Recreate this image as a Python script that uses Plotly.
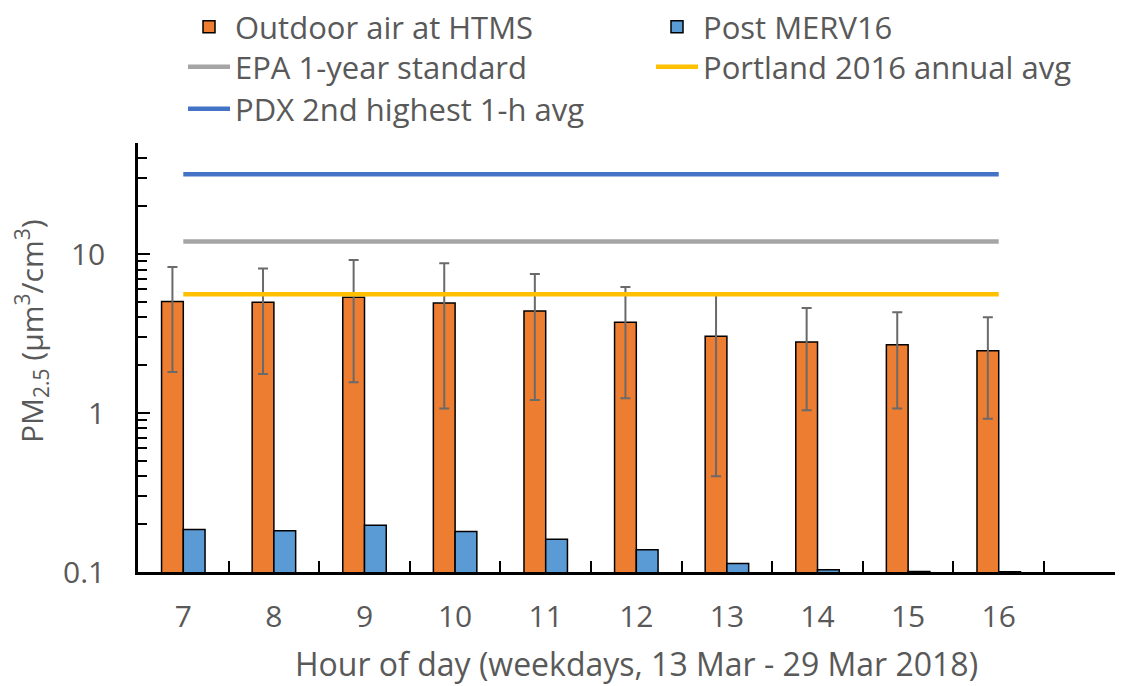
import plotly.graph_objects as go

hours = ["7", "8", "9", "10", "11", "12", "13", "14", "15", "16"]
outdoor = [5.03, 4.97, 5.36, 4.92, 4.38, 3.73, 3.04, 2.80, 2.69, 2.47]
outdoor_err_hi = [8.3, 8.13, 9.17, 8.75, 7.5, 6.22, 5.6, 4.58, 4.3, 4.0]
outdoor_err_lo = [1.81, 1.76, 1.56, 1.07, 1.21, 1.24, 0.40, 1.04, 1.07, 0.92]
post_merv16 = [0.185, 0.182, 0.197, 0.180, 0.161, 0.138, 0.113, 0.1033, 0.1008, 0.1004]
epa_standard = [12, 12, 12, 12, 12, 12, 12, 12, 12, 12]
portland_avg = [5.6, 5.6, 5.6, 5.6, 5.6, 5.6, 5.6, 5.6, 5.6, 5.6]
pdx_2nd_high = [31.8, 31.8, 31.8, 31.8, 31.8, 31.8, 31.8, 31.8, 31.8, 31.8]

x_title = "Hour of day (weekdays, 13 Mar - 29 Mar 2018)"
y_title = "PM<sub>2.5</sub> (μm<sup>3</sup>/cm<sup>3</sup>)"

err_plus = [h - v for h, v in zip(outdoor_err_hi, outdoor)]
err_minus = [v - l for l, v in zip(outdoor_err_lo, outdoor)]

# page body has an 8px margin; positions below are in figure pixels
W, H = 1123, 686
ML, MR, MT, MB = 130, 0, 135, 122
PW, PH = W - ML - MR, H - MT - MB
FONT = "Open Sans"
TXT = "#595959"
LEG_FONT = dict(family=FONT, size=31, color=TXT)

fig = go.Figure()
fig.add_trace(go.Bar(
    x=hours, y=outdoor, name="Outdoor air at HTMS", legend="legend",
    marker=dict(color="#ED7D31", line=dict(color="black", width=1.5)),
    error_y=dict(type="data", array=err_plus, arrayminus=err_minus,
                 color="#6a6a6a", thickness=2, width=5),
))
fig.add_trace(go.Bar(
    x=hours, y=post_merv16, name="Post MERV16", legend="legend2",
    marker=dict(color="#5B9BD5", line=dict(color="black", width=1.5)),
))
fig.add_trace(go.Scatter(
    x=hours, y=epa_standard, name="EPA 1-year standard", mode="lines",
    legend="legend3", line=dict(color="#A5A5A5", width=4.5),
))
fig.add_trace(go.Scatter(
    x=hours, y=portland_avg, name="Portland 2016 annual avg", mode="lines",
    legend="legend4", line=dict(color="#FFC000", width=4.5),
))
fig.add_trace(go.Scatter(
    x=hours, y=pdx_2nd_high, name="PDX 2nd highest 1-h avg", mode="lines",
    legend="legend5", line=dict(color="#4472C4", width=4.5),
))


def leg(x_px, y_px):
    return dict(
        xref="container", yref="container",
        x=x_px / W, y=1 - y_px / H, xanchor="left", yanchor="middle",
        font=LEG_FONT, itemwidth=42, bgcolor="rgba(0,0,0,0)",
        orientation="v",
    )


fig.update_layout(
    width=W, height=H,
    margin=dict(l=ML, r=MR, t=MT, b=MB, autoexpand=False),
    paper_bgcolor="white", plot_bgcolor="white",
    font=dict(family=FONT, size=30, color=TXT),
    barmode="group", bargap=0.52, bargroupgap=0,
    showlegend=True,
    legend=leg(175, 19),
    legend2=leg(643, 19),
    legend3=leg(175, 59),
    legend4=leg(643, 59),
    legend5=leg(175, 101),
    xaxis=dict(
        type="category", categoryorder="array", categoryarray=hours,
        range=[-0.5, 10.46],
        tickson="boundaries", ticks="inside", ticklen=11, tickwidth=1.5,
        tickcolor="black",
        showline=True, linecolor="black", linewidth=2.5,
        showgrid=False, zeroline=False,
        tickfont=dict(family=FONT, size=30, color=TXT),
        ticklabelstandoff=16,
    ),
    yaxis=dict(
        type="log", range=[-1, 1.69897],
        dtick=1, tick0=0,
        ticks="inside", ticklen=12, tickwidth=2, tickcolor="black",
        minor=dict(ticks="inside", ticklen=9, tickwidth=1.5, tickcolor="black",
                   dtick="D1", showgrid=False),
        showline=True, linecolor="black", linewidth=2.5,
        showgrid=False, zeroline=False,
        tickfont=dict(family=FONT, size=30, color=TXT),
        ticklabelstandoff=24,
    ),
    annotations=[
        dict(text=x_title, xref="paper", yref="paper",
             x=(628 - ML) / PW, y=(H - MB - 655) / PH,
             xanchor="center", yanchor="middle",
             showarrow=False, font=dict(family=FONT, size=32, color=TXT)),
        dict(text=y_title, xref="paper", yref="paper",
             x=(23 - ML) / PW, y=1 - (323 - MT) / PH,
             xanchor="center", yanchor="middle",
             textangle=-90, showarrow=False,
             font=dict(family=FONT, size=30, color=TXT)),
    ],
)

fig.write_html("out.html")
